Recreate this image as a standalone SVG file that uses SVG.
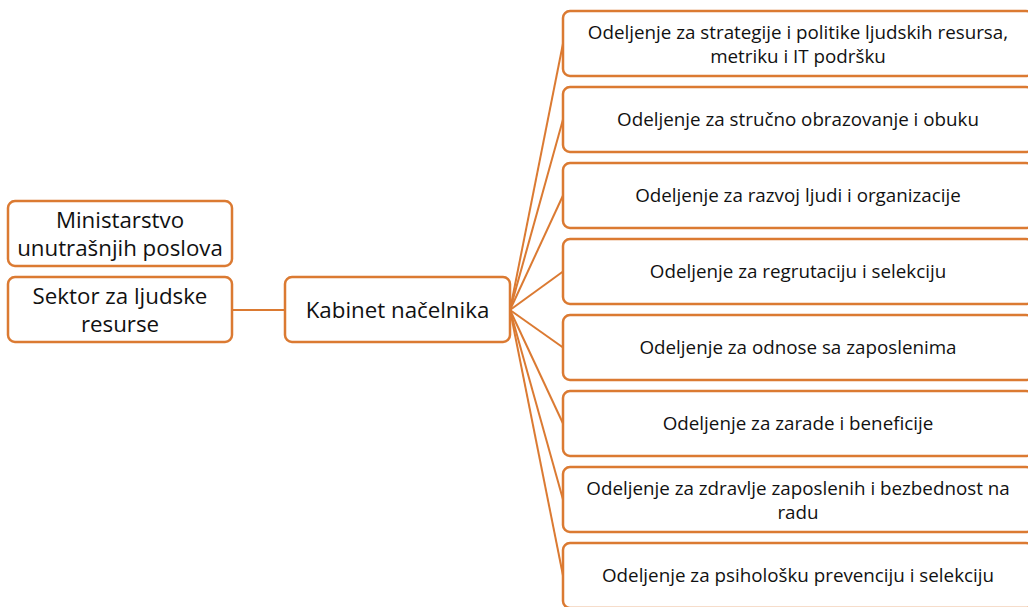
<svg xmlns="http://www.w3.org/2000/svg" width="1028" height="607" viewBox="0 0 1028 607">
<style>
.box{fill:#fff;stroke:#DB7A32;stroke-width:2.5}
.ln{stroke:#DB7A32;stroke-width:2;fill:none}
.t{font-family:"Open Sans","Liberation Sans",sans-serif;fill:#111;text-anchor:middle}
.big{font-size:22.3px}
.sm{font-size:18.8px}
</style>
<rect width="1028" height="607" fill="#fff"/>
<g id="connectors">
<line class="ln" x1="232" y1="310" x2="285" y2="310"/>
<line class="ln" x1="510" y1="310" x2="563" y2="43.5"/>
<line class="ln" x1="510" y1="310" x2="563" y2="119.5"/>
<line class="ln" x1="510" y1="310" x2="563" y2="195.5"/>
<line class="ln" x1="510" y1="310" x2="563" y2="271.5"/>
<line class="ln" x1="510" y1="310" x2="563" y2="347.5"/>
<line class="ln" x1="510" y1="310" x2="563" y2="423.5"/>
<line class="ln" x1="510" y1="310" x2="563" y2="499.5"/>
<line class="ln" x1="510" y1="310" x2="563" y2="575.5"/>
</g>
<g id="n-ministarstvo">
<rect class="box" x="8" y="201" width="224" height="65" rx="7"/>
<text class="t big" x="120" y="228">Ministarstvo</text>
<text class="t big" x="120" y="256">unutrašnjih poslova</text>
</g>
<g id="n-sektor">
<rect class="box" x="8" y="277" width="224" height="65" rx="7"/>
<text class="t big" x="120" y="304">Sektor za ljudske</text>
<text class="t big" x="120" y="332">resurse</text>
</g>
<g id="n-kabinet">
<rect class="box" x="285" y="277" width="225" height="65" rx="7"/>
<text class="t big" x="397.5" y="318">Kabinet načelnika</text>
</g>
<g id="n-d1">
<rect class="box" x="563" y="11" width="470" height="65" rx="7"/>
<text class="t sm" x="798" y="39">Odeljenje za strategije i politike ljudskih resursa,</text>
<text class="t sm" x="798" y="63">metriku i IT podršku</text>
</g>
<g id="n-d2">
<rect class="box" x="563" y="87" width="470" height="65" rx="7"/>
<text class="t sm" x="798" y="126">Odeljenje za stručno obrazovanje i obuku</text>
</g>
<g id="n-d3">
<rect class="box" x="563" y="163" width="470" height="65" rx="7"/>
<text class="t sm" x="798" y="202">Odeljenje za razvoj ljudi i organizacije</text>
</g>
<g id="n-d4">
<rect class="box" x="563" y="239" width="470" height="65" rx="7"/>
<text class="t sm" x="798" y="278">Odeljenje za regrutaciju i selekciju</text>
</g>
<g id="n-d5">
<rect class="box" x="563" y="315" width="470" height="65" rx="7"/>
<text class="t sm" x="798" y="354">Odeljenje za odnose sa zaposlenima</text>
</g>
<g id="n-d6">
<rect class="box" x="563" y="391" width="470" height="65" rx="7"/>
<text class="t sm" x="798" y="430">Odeljenje za zarade i beneficije</text>
</g>
<g id="n-d7">
<rect class="box" x="563" y="467" width="470" height="65" rx="7"/>
<text class="t sm" x="798" y="495">Odeljenje za zdravlje zaposlenih i bezbednost na</text>
<text class="t sm" x="798" y="519">radu</text>
</g>
<g id="n-d8">
<rect class="box" x="563" y="543" width="470" height="65" rx="7"/>
<text class="t sm" x="798" y="582">Odeljenje za psihološku prevenciju i selekciju</text>
</g>
</svg>
